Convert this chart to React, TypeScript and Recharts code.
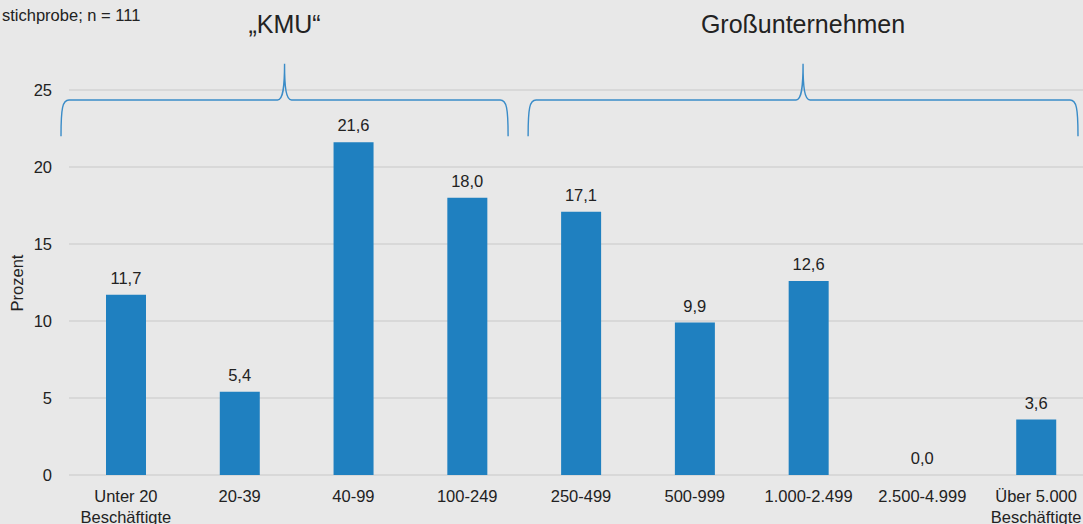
import React from 'react';
import {
  ComposedChart,
  Bar,
  Line,
  XAxis,
  YAxis,
  CartesianGrid,
  LabelList,
  ReferenceArea,
  Customized,
} from 'recharts';

// Company size classes (employees) and share of respondents in percent
const categories: string[] = [
  'Unter 20\nBeschäftigte',
  '20-39',
  '40-99',
  '100-249',
  '250-499',
  '500-999',
  '1.000-2.499',
  '2.500-4.999',
  'Über 5.000\nBeschäftigte',
];
const shares: number[] = [11.7, 5.4, 21.6, 18.0, 17.1, 9.9, 12.6, 0.0, 3.6];
const yTicks: number[] = [0, 5, 10, 15, 20, 25];

// Size groups marked with braces above the bars
const groupTitles: string[] = ['„KMU“', 'Großunternehmen'];
const groupFrom: string[] = [categories[0], categories[4]];
const groupTo: string[] = [categories[3], categories[8]];

const data = categories.map((name, i) => ({ name, value: shares[i] }));

const FONT = '"Liberation Sans", Arial, Helvetica, sans-serif';
const TEXT = '#222222';
const BLUE = '#1f80c0';
const BRACE = '#3a8cc8';

const fmt = (v: unknown) => Number(v).toFixed(1).replace('.', ',');

const CategoryTick = (props: any) => {
  const { x, y, payload } = props;
  const lines = String(payload.value).split('\n');
  return (
    <text x={x} y={y} textAnchor="middle" fontSize={16.5} fontFamily={FONT} fill={TEXT}>
      {lines.map((l, i) => (
        <tspan key={i} x={x} dy={i === 0 ? 27 : 21}>
          {l}
        </tspan>
      ))}
    </text>
  );
};

// Curly brace spanning a group of categories, with the group title above its tip
const makeBrace = (title: string, padL: number, padR: number) => (props: any) => {
  const { x, y, width, height } = props;
  const L = x + padL;
  const R = x + width + padR;
  const C = (L + R) / 2;
  const top = y;
  const bottom = y + height;
  const h = (top + bottom) / 2;
  const d = [
    `M${L},${bottom}`,
    `C${L},${h + 8} ${L + 1.5},${h} ${L + 8},${h}`,
    `L${C - 7},${h}`,
    `C${C - 1.5},${h} ${C},${h - 12} ${C},${top}`,
    `C${C},${h - 12} ${C + 1.5},${h} ${C + 7},${h}`,
    `L${R - 8},${h}`,
    `C${R - 1.5},${h} ${R},${h + 8} ${R},${bottom}`,
  ].join(' ');
  return (
    <g>
      <path d={d} fill="none" stroke={BRACE} strokeWidth={1.4} />
      <text x={C} y={top - 31} textAnchor="middle" fontSize={25} fontFamily={FONT} fill={TEXT}>
        {title}
      </text>
    </g>
  );
};

const bracePads: [number, number][] = [
  [-8, -16],
  [4, -15],
];

const Annotations = () => (
  <g>
    <text x={2} y={21} fontSize={16.5} fontFamily={FONT} fill={TEXT}>
      stichprobe; n = 111
    </text>
    <text
      x={23}
      y={283}
      transform="rotate(-90, 23, 283)"
      textAnchor="middle"
      fontSize={16.5}
      fontFamily={FONT}
      fill={TEXT}
    >
      Prozent
    </text>
  </g>
);

export default function App() {
  return (
    <div
      style={{
        position: 'fixed',
        left: 0,
        top: 0,
        width: 1083,
        height: 524,
        overflow: 'hidden',
        background: '#e8e8e8',
      }}
    >
      <ComposedChart
        width={1100}
        height={540}
        data={data}
        margin={{ top: 90, right: 7, bottom: 0, left: 0 }}
        barSize={40}
      >
        <CartesianGrid vertical={false} stroke="#c8c8c8" strokeWidth={1.2} />
        <XAxis
          dataKey="name"
          interval={0}
          height={65}
          axisLine={false}
          tickLine={false}
          tickSize={0}
          tickMargin={0}
          tick={<CategoryTick />}
        />
        <YAxis
          width={69}
          domain={[0, 25]}
          ticks={yTicks}
          allowDataOverflow
          axisLine={false}
          tickLine={false}
          tickSize={0}
          tickMargin={17}
          tick={{ fontSize: 16.5, fontFamily: FONT, fill: TEXT }}
        />
        <Bar dataKey="value" fill={BLUE} isAnimationActive={false} />
        {/* invisible series carrying the value labels, so zero values get one too */}
        <Line
          dataKey="value"
          stroke="none"
          dot={false}
          activeDot={false}
          legendType="none"
          isAnimationActive={false}
        >
          <LabelList
            dataKey="value"
            position="top"
            offset={11}
            formatter={fmt}
            style={{ fontSize: 16.5, fontFamily: FONT, fill: TEXT }}
          />
        </Line>
        {groupTitles.map((t, i) => (
          <ReferenceArea
            key={t}
            x1={groupFrom[i]}
            x2={groupTo[i]}
            y1={22}
            y2={26.7}
            ifOverflow="visible"
            shape={makeBrace(t, bracePads[i][0], bracePads[i][1])}
          />
        ))}
        <Customized component={<Annotations />} />
      </ComposedChart>
    </div>
  );
}
